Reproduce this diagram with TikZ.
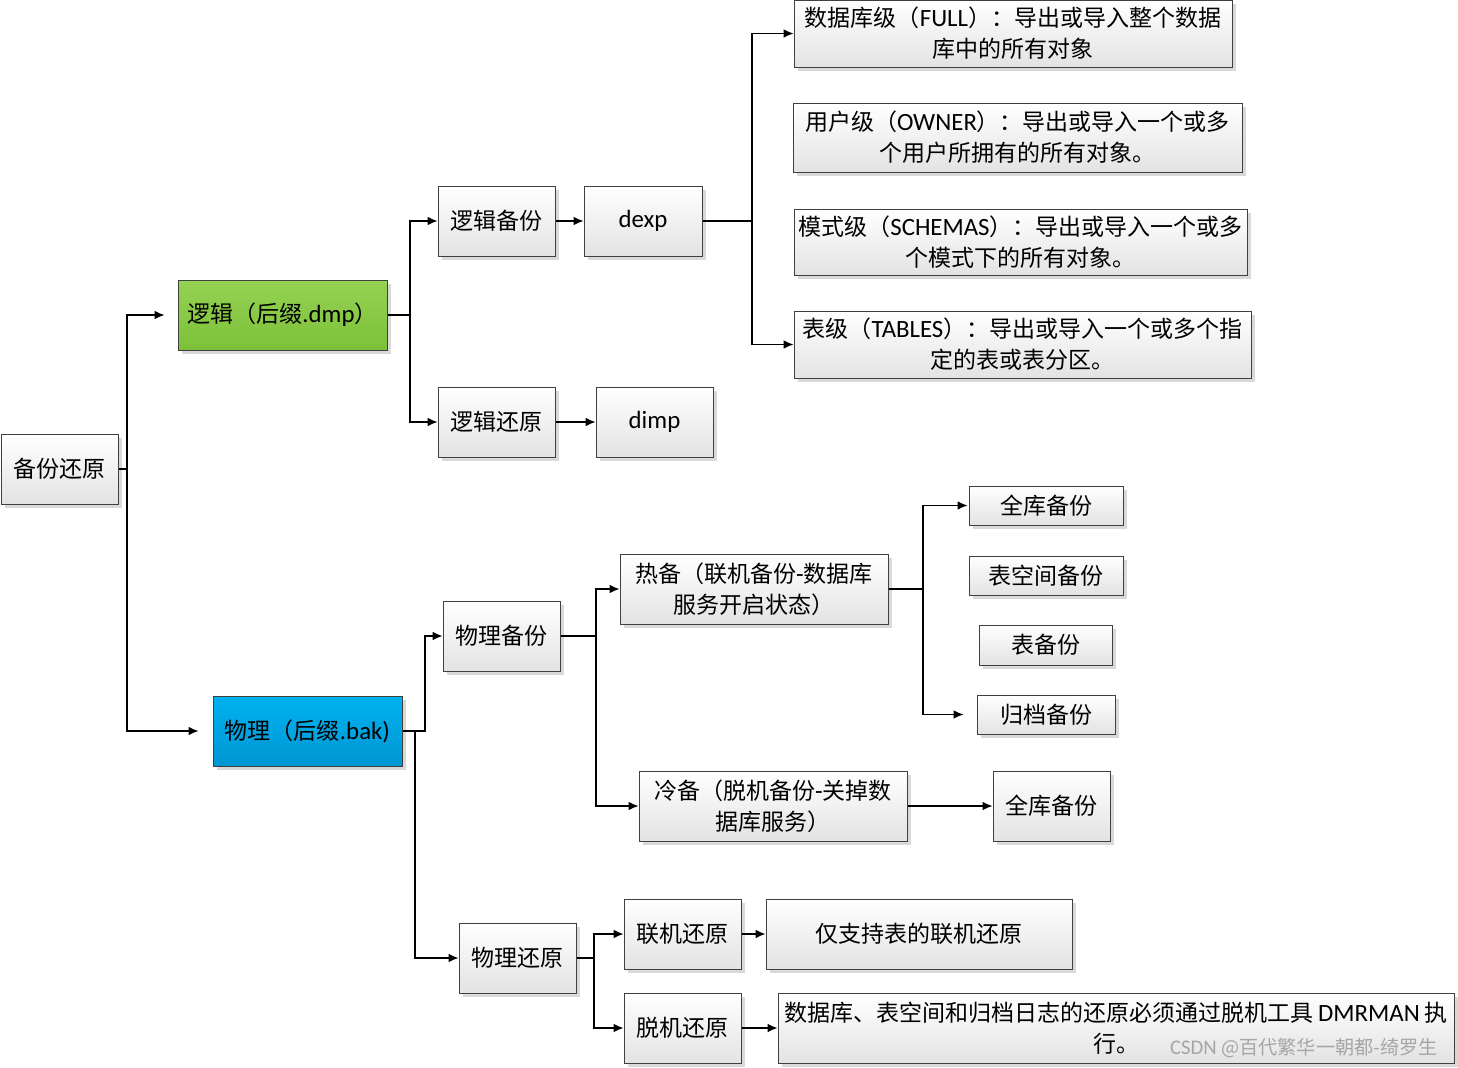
\documentclass[tikz,border=0pt]{standalone}
\usepackage{fontspec}
\setmainfont{Noto Sans CJK SC}
\newfontfamily\lat[Scale=1.08]{Carlito}
\usepackage{xcolor}
\usetikzlibrary{arrows.meta,shadows}
\definecolor{dmptop}{RGB}{150,210,84}
\definecolor{dmpbot}{RGB}{124,192,56}
\definecolor{baktop}{RGB}{0,178,240}
\definecolor{bakbot}{RGB}{0,150,210}
\tikzstyle{box}=[draw=black!75, line width=0.5pt, top color=white, bottom color=black!11,
	drop shadow={shadow xshift=1.8pt, shadow yshift=-1.8pt, fill=black!15, opacity=1},
	align=center, inner sep=0pt, font=\fontsize{11.5}{15.5}\selectfont]
\tikzstyle{dmpbox}=[top color=dmptop, bottom color=dmpbot]
\tikzstyle{bakbox}=[top color=baktop, bottom color=bakbot]
\tikzstyle{link}=[line width=0.6pt]
\tikzstyle{arr}=[link, -{Latex[length=5pt,width=4.4pt]}]
\newcommand{\boxnode}[7]{
	\node[box, #1, minimum width=#5*0.5pt, minimum height=#6*0.5pt] (#2) at (#3,#4) {#7};
}

\begin{document}
\begin{tikzpicture}[x=0.5pt, y=-0.5pt]
	\useasboundingbox (0,0) rectangle (1458,1067);
%
	\boxnode{}{root}{59.5}{469}{117}{70}{备份还原}
	\boxnode{dmpbox}{logic}{282.5}{315}{209}{70}{逻辑（后缀{\lat .dmp}）}
	\boxnode{bakbox}{phys}{307.5}{731}{189}{70}{物理（后缀{\lat .bak)}}
%
	\boxnode{}{lbak}{496.5}{221}{117}{70}{逻辑备份}
	\boxnode{}{dexp}{643}{221}{118}{70}{\lat dexp}
	\boxnode{}{lres}{496.5}{422}{117}{70}{逻辑还原}
	\boxnode{}{dimp}{654.5}{422}{117}{70}{\lat dimp}
%
	\boxnode{}{full}{1013}{33.5}{438}{67}{数据库级（{\lat FULL}）：导出或导入整个数据\\库中的所有对象}
	\boxnode{}{owner}{1017.5}{137.5}{449}{69}{用户级（{\lat OWNER}）：导出或导入一个或多\\个用户所拥有的所有对象。}
	\boxnode{}{schem}{1020.5}{242}{453}{66}{模式级（{\lat SCHEMAS}）：导出或导入一个或多\\个模式下的所有对象。}
	\boxnode{}{tabl}{1022.5}{344.5}{457}{67}{表级（{\lat TABLES}）：导出或导入一个或多个指\\定的表或表分区。}
%
	\boxnode{}{pbak}{501.5}{636}{117}{70}{物理备份}
	\boxnode{}{hot}{754}{589}{268}{70}{热备（联机备份{\lat -}数据库\\服务开启状态）}
	\boxnode{}{cold}{773}{806}{268}{70}{冷备（脱机备份{\lat -}关掉数\\据库服务）}
	\boxnode{}{fulla}{1046}{505.5}{154}{39}{全库备份}
	\boxnode{}{tsb}{1046}{575.5}{154}{39}{表空间备份}
	\boxnode{}{tb}{1045.5}{645}{133}{40}{表备份}
	\boxnode{}{arch}{1046}{714.5}{138}{39}{归档备份}
	\boxnode{}{fullb}{1051.5}{806}{117}{70}{全库备份}
%
	\boxnode{}{pres}{517.5}{958}{117}{70}{物理还原}
	\boxnode{}{onl}{682.5}{934}{117}{70}{联机还原}
	\boxnode{}{onlnote}{919}{934}{306}{70}{仅支持表的联机还原}
	\boxnode{}{off}{682.5}{1028}{117}{70}{脱机还原}
	\boxnode{}{offnote}{1116}{1028}{676}{70}{数据库、表空间和归档日志的还原必须通过脱机工具 {\lat DMRMAN} 执\\行。}
%
	\coordinate (j1) at (127,469);
	\coordinate (j2) at (410,315);
	\coordinate (j3) at (752,221);
	\coordinate (j4) at (425,731);
	\coordinate (j5) at (415,731);
	\coordinate (j6) at (596,636);
	\coordinate (j7) at (923,589);
	\coordinate (j8) at (594,958);
%
	\draw[link] (root.east) -- (j1);
	\draw[arr, shorten >=6.5pt] (j1) |- (logic.west);
	\draw[arr, shorten >=7pt] (j1) |- (phys.west);
	\draw[link] (logic.east) -- (j2);
	\draw[arr] (j2) |- (lbak.west);
	\draw[arr] (j2) |- (lres.west);
	\draw[arr] (lbak) -- (dexp);
	\draw[arr] (lres) -- (dimp);
	\draw[link] (dexp.east) -- (j3);
	\draw[arr] (j3) |- (full.west);
	\draw[arr] (j3) |- (tabl.west);
%
	\draw[arr] (phys.east) -- (j4) |- (pbak.west);
	\draw[arr] (j5) |- (pres.west);
	\draw[link] (pbak.east) -- (j6);
	\draw[arr] (j6) |- (hot.west);
	\draw[arr] (j6) |- (cold.west);
	\draw[link] (hot.east) -- (j7);
	\draw[arr, shorten >=0.5pt] (j7) |- (fulla.west);
	\draw[arr, shorten >=6.5pt] (j7) |- (arch.west);
	\draw[arr] (cold) -- (fullb);
	\draw[link] (pres.east) -- (j8);
	\draw[arr] (j8) |- (onl.west);
	\draw[arr] (j8) |- (off.west);
	\draw[arr] (onl) -- (onlnote);
	\draw[arr] (off) -- (offnote);
%
	\node[text=black!35, font=\fontsize{9.6}{11}\selectfont] (wm) at (1304,1048) {{\lat CSDN} @百代繁华一朝都-绮罗生};
\end{tikzpicture}
\end{document}
